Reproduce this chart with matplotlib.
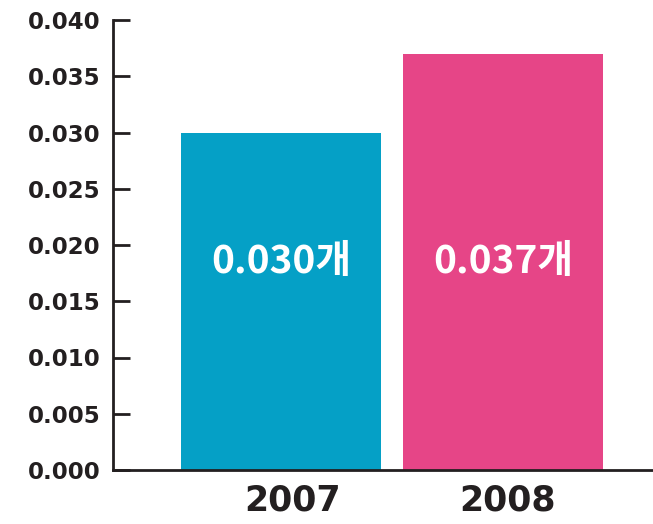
import matplotlib.pyplot as plt

years = ['2007', '2008']
values = [0.030, 0.037]
labels = ['0.030개', '0.037개']
colors = ['#05a0c6', '#e64587']

fig = plt.figure(figsize=(6.53, 5.24), dpi=100)
ax = fig.add_axes([113 / 653, 54 / 524, 540 / 653, 450 / 524])

x = [0, 1]
bars = ax.bar(x, values, width=0.9, color=colors)

for xi, v, lab in zip(x, values, labels):
    ax.text(xi, 0.0185, lab, ha='center', va='center', color='white',
            fontsize=28, fontweight='bold',
            family=['Noto Sans CJK KR', 'DejaVu Sans'])

ax.set_xlim(-0.757, 1.676)
ax.set_ylim(0, 0.040)
ax.set_yticks([i * 0.005 for i in range(9)])
ax.set_yticklabels([f'{i * 0.005:.3f}' for i in range(9)],
                   fontsize=16.5, fontweight='bold', color='#231f20')
ax.set_xticks([0.05, 1.02])
ax.set_xticklabels(years, fontsize=25, fontweight='bold', color='#231f20')

ax.tick_params(axis='y', direction='in', length=12, width=2, color='#231f20', pad=9)
ax.tick_params(axis='x', length=0, pad=10)

for side in ['top', 'right']:
    ax.spines[side].set_visible(False)
for side in ['left', 'bottom']:
    ax.spines[side].set_linewidth(2)
    ax.spines[side].set_color('#231f20')

fig.savefig('out.png', dpi=100)
